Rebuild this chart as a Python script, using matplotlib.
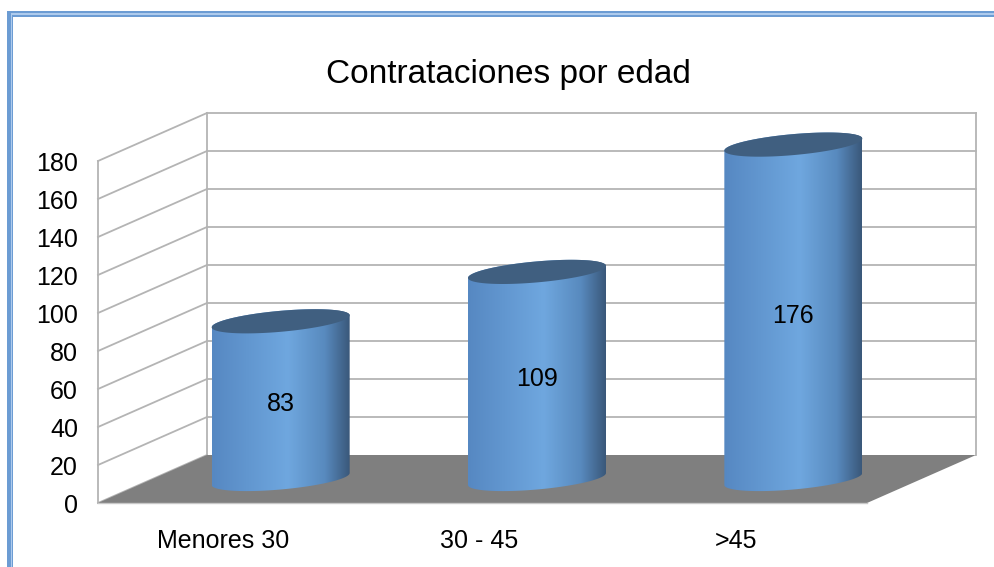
import numpy as np
import matplotlib
matplotlib.use("Agg")
import matplotlib.pyplot as plt
from matplotlib.patches import Polygon, Rectangle
from matplotlib.colors import LinearSegmentedColormap

plt.rcParams['font.family'] = ['Liberation Sans', 'DejaVu Sans']

# ---- data ----
categories = ["Menores 30", "30 - 45", ">45"]
values = [83, 109, 176]
tick_values = [0, 20, 40, 60, 80, 100, 120, 140, 160, 180]
title = "Contrataciones por edad"

# ---- layout (pixels) ----
W, H, DPI = 994, 567, 100
BACK_L, BACK_R = 207, 976      # back wall x extent
BACK_ZERO, BACK_TOP = 455, 113  # y of value 0 and value 180 on back wall
DEPTH_DX, DEPTH_DY = -109, 48   # offset back -> front (pixels, y down)
VMAX = 180

cat_px = (BACK_R - BACK_L) / len(categories)
val_px = (BACK_ZERO - BACK_TOP) / VMAX
ddx = DEPTH_DX / cat_px
ddy = -DEPTH_DY / val_px

fig = plt.figure(figsize=(W / DPI, H / DPI), dpi=DPI)
ax = fig.add_axes([0, 0, 1, 1])
ax.axis('off')
xl = -0.5 - BACK_L / cat_px
xr = -0.5 + (W - BACK_L) / cat_px
yb = -(H - BACK_ZERO) / val_px
yt = BACK_ZERO / val_px
ax.set_xlim(xl, xr)
ax.set_ylim(yb, yt)
ax.set_autoscale_on(False)

GRID = '#b4b4b4'
LW = 1.3
x0, x1 = -0.5, len(categories) - 0.5

# back wall gridlines + edges
for v in tick_values[1:]:
    ax.plot([x0, x1], [v, v], color=GRID, lw=LW, zorder=1)
ax.plot([x0, x0], [0, VMAX], color=GRID, lw=LW, zorder=1)
ax.plot([x1, x1], [0, VMAX], color=GRID, lw=LW, zorder=1)
# left side wall
for v in tick_values:
    ax.plot([x0, x0 + ddx], [v, v + ddy], color=GRID, lw=LW, zorder=1)
ax.plot([x0 + ddx, x0 + ddx], [ddy, VMAX + ddy], color=GRID, lw=LW, zorder=1)

# floor
floor = Polygon([(x0, 0), (x1, 0), (x1 + ddx, ddy), (x0 + ddx, ddy)],
                closed=True, facecolor='#7f7f7f', edgecolor='none', zorder=2)
ax.add_patch(floor)
ax.plot([x0 + ddx, x1 + ddx], [ddy, ddy], color='#c8c8c8', lw=1.0, zorder=2)

# cylinders
HW = 69 / cat_px
TILT = 6 / val_px
MINOR = 10.5 / val_px
grad = LinearSegmentedColormap.from_list('cyl', [
    (0.0, (86/255, 136/255, 194/255)),
    (0.55, (111/255, 167/255, 223/255)),
    (0.82, (88/255, 138/255, 190/255)),
    (1.0, (58/255, 88/255, 122/255)),
])
gvals = np.linspace(0, 1, 256)[None, :]
TOPC = '#405f80'

def ell(cx, cy, t):
    return np.column_stack([cx + np.cos(t) * HW,
                            cy + np.cos(t) * TILT + np.sin(t) * MINOR])

for i, (cat, val) in enumerate(zip(categories, values)):
    cx = i + ddx / 2
    cb = ddy / 2
    ct = val + ddy / 2
    bottom = ell(cx, cb, np.linspace(np.pi, 2 * np.pi, 80))
    top = ell(cx, ct, np.linspace(0, np.pi, 80))
    body = np.vstack([bottom, top])
    bp = Polygon(body, closed=True, facecolor='none', edgecolor='none', zorder=3)
    ax.add_patch(bp)
    im = ax.imshow(gvals, cmap=grad, aspect='auto', interpolation='bilinear',
                   extent=[cx - HW, cx + HW, cb - TILT - MINOR - 2, ct + TILT + MINOR + 2],
                   zorder=3)
    im.set_clip_path(bp)
    topell = Polygon(ell(cx, ct, np.linspace(0, 2 * np.pi, 160)), closed=True,
                     facecolor=TOPC, edgecolor='none', zorder=4)
    ax.add_patch(topell)
    ax.text(cx, val / 2 + ddy / 2 - 4 / val_px, str(val), ha='center', va='center',
            fontsize=18, color='black', zorder=5)
    ax.text(i + ddx - 3 / cat_px, ddy - 38 / val_px, cat, ha='center', va='center',
            fontsize=18, color='black', zorder=5)

# value axis labels
for v in tick_values:
    ax.text(x0 + ddx - 20 / cat_px, v + ddy - 3 / val_px, str(v), ha='right', va='center',
            fontsize=18, color='black')

fig.text(508 / W, 1 - 74 / H, title, ha='center', va='center', fontsize=24, color='black')

# blue frame (top and left)
def band(xa, ya, xb, yb_, color):
    fig.patches.append(Rectangle((xa / W, 1 - yb_ / H), (xb - xa) / W, (yb_ - ya) / H,
                                 transform=fig.transFigure, facecolor=color,
                                 edgecolor='none', zorder=10))
band(7, 11, W, 17.3, '#6c9cd3')
band(7, 11, 13.3, H, '#6c9cd3')
band(12, 13.3, W, 15, '#aecbed')
band(10.7, 13.3, 12, H, '#aecbed')

fig.savefig('out.png', dpi=DPI)
